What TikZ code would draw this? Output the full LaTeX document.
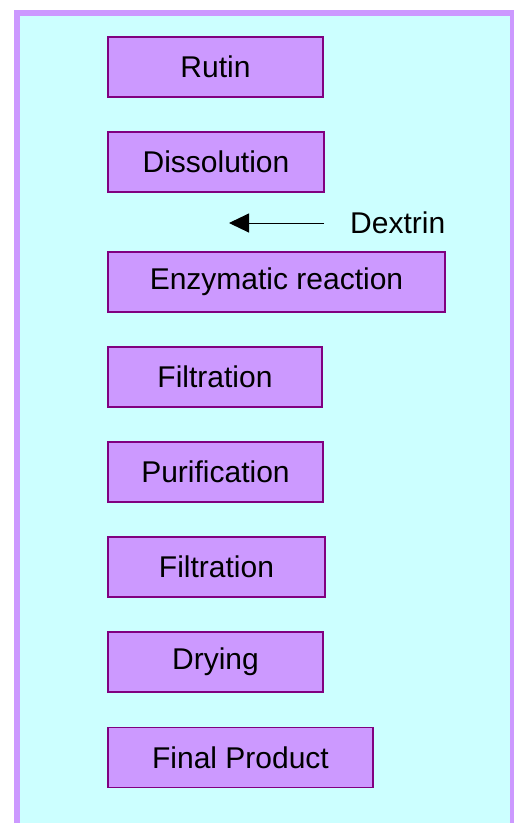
\documentclass[tikz,border=0pt]{standalone}
\usepackage{fontspec}
\setmainfont{Liberation Sans}
\usetikzlibrary{arrows.meta}
\definecolor{framec}{HTML}{CC99FF}
\definecolor{bgc}{HTML}{CCFFFF}
\definecolor{boxfill}{HTML}{CC99FF}
\definecolor{boxline}{HTML}{800080}
\tikzset{
  stepbox/.style={draw=boxline, line width=1.3pt, fill=boxfill, inner sep=0pt,
    minimum height=60pt, font=\fontsize{30}{35}\selectfont, text=black},
  lbl/.style={inner sep=0pt, font=\fontsize{30}{35}\selectfont, text=black},
  feed/.style={draw=black, line width=1pt, -{Triangle[length=20pt,width=19pt]}}
}
\begin{document}
\begin{tikzpicture}[x=1pt,y=-1pt]
\useasboundingbox (0,0) rectangle (514,823);
\fill[bgc] (17,13) rectangle (513,830);
\draw[framec, line width=6pt] (17,835) -- (17,13) -- (513,13) -- (513,835);
\node[stepbox, minimum width=215pt] (rutin) at (215.5,67) {Rutin};
\node[stepbox, minimum width=216pt] (diss) at (216,162) {Dissolution};
\node[stepbox, minimum width=337pt] (enz) at (276.5,282) {Enzymatic reaction};
\node[stepbox, minimum width=214pt] (filt1) at (215,377) {Filtration};
\node[stepbox, minimum width=215pt] (puri) at (215.5,472) {Purification};
\node[stepbox, minimum width=217pt] (filt2) at (216.5,567) {Filtration};
\node[stepbox, minimum width=215pt] (dry) at (215.5,662) {Drying};
\node[stepbox, minimum width=265pt] (final) at (240.5,757.5) {Final Product};
\node[lbl, anchor=west] (dex) at (350,223) {Dextrin};
\coordinate (arrs) at (324,223);
\coordinate (arre) at (229,223);
\draw[feed] (arrs) -- (arre);
\end{tikzpicture}
\end{document}
